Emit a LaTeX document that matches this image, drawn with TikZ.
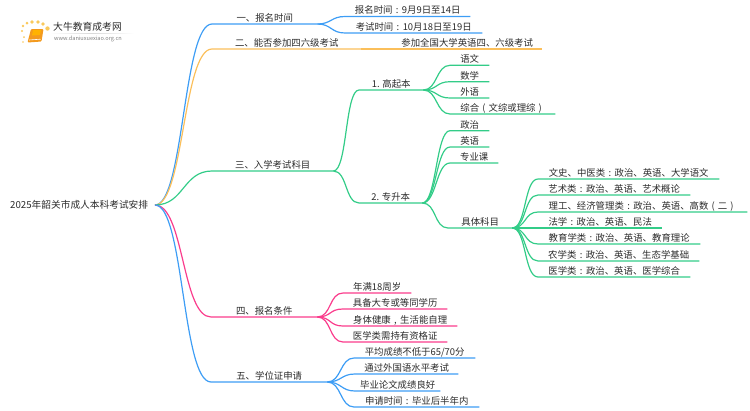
\documentclass[tikz,border=0pt]{standalone}
\usepackage{fontspec}
\setmainfont{Noto Sans CJK SC}
\definecolor{lineblue}{HTML}{3D9DF5}
\definecolor{lineorange}{HTML}{FBBF5A}
\definecolor{linegreen}{HTML}{33CC88}
\definecolor{linepink}{HTML}{FA3C8C}
\definecolor{labelgray}{HTML}{2B2B2B}
\definecolor{bookorange}{HTML}{F39A1E}
\definecolor{sparkyellow}{HTML}{F9C95C}
\newcommand{\wide}[1]{\makebox[1em]{#1}}
\tikzset{
    item/.style={anchor=south west, inner sep=0pt, text height=8pt, text depth=2.4pt, text=labelgray, font=\fontsize{9.4}{11}\selectfont}
}
\begin{document}
\begin{tikzpicture}[x=1pt, y=-1pt, link/.style={line width=1.2pt}]
    \useasboundingbox (0,0) rectangle (750,410);

    % Logo
    \fill[bookorange, rounded corners=1pt] (31,29) -- (43.5,29) -- (41.5,41.5) -- (27.5,42.5) -- cycle;
    \fill[orange!60!yellow] (33,30) -- (41,30) -- (40,35) -- (32,35.5) -- cycle;
    \draw[white, line width=0.6pt] (29,40) -- (40.5,39.2);
    \foreach \sx/\sy/\sr in {23/42/0.8, 24/37/1, 22/31/1.1, 23/26/1.3, 27/23/1.5, 32/22/1.8, 38/22/1.9, 43/24/1.9, 47.5/28.5/2.2}
        \fill[sparkyellow] (\sx,\sy) circle (\sr);
    \node[anchor=west, inner sep=0pt, text=labelgray, font=\fontsize{9.8}{11}\selectfont] (brand) at (53,27) {大牛教育成考网};
    \node[anchor=west, inner sep=0pt, text=gray, font=\fontsize{5.6}{7}\selectfont] (site) at (54,38.5) {www.daniuxuexiao.org.cn};
    \shade[left color=white, right color=white, middle color=black!15] (50,33) rectangle (134,33.6);

    % Root
    \node[anchor=west, inner sep=0pt, text=labelgray, font=\fontsize{9.7}{11}\selectfont] (root) at (10,205) {2025年韶关市成人本科考试安排};
    \coordinate (hub) at (155,205);

    % First level
    \node[item, minimum width=105pt] (time) at (212,24) {一、报名时间};
    \node[item, minimum width=149pt] (can) at (212,49) {二、能否参加四六级考试};
    \node[item, minimum width=121pt] (subject) at (212,171) {三、入学考试科目};
    \node[item, minimum width=106pt] (cond) at (211,317) {四、报名条件};
    \node[item, minimum width=116pt] (degree) at (211,382) {五、学位证申请};

    % Time
    \node[item, minimum width=125pt] (time1) at (345,16.5) {报名时间\wide{:}9月9日至14日};
    \node[item, minimum width=137pt] (time2) at (345,33) {考试时间\wide{:}10月18日至19日};

    % Can
    \node[item, minimum width=150pt] (can1) at (392,49) {参加全国大学英语四、六级考试};

    % Subject
    \node[item, minimum width=64pt] (gqb) at (359,90) {1. 高起本};
    \node[item, minimum width=63pt] (zsb) at (359,203) {2. 专升本};
    \node[item, minimum width=39pt] (gqb1) at (450,65.3) {语文};
    \node[item, minimum width=39pt] (gqb2) at (450,81.7) {数学};
    \node[item, minimum width=39pt] (gqb3) at (450,98) {外语};
    \node[item, minimum width=105pt] (gqb4) at (450,114) {综合\wide{(}文综或理综\wide{)}};
    \node[item, minimum width=39pt] (zsb1) at (450,130.7) {政治};
    \node[item, minimum width=39pt] (zsb2) at (450,147) {英语};
    \node[item, minimum width=48pt] (zsb3) at (450,163) {专业课};
    \node[item, minimum width=64pt] (zsb4) at (448,228) {具体科目};
    \node[item, minimum width=181pt] (kind1) at (538,179) {文史、中医类\wide{:}政治、英语、大学语文};
    \node[item, minimum width=152pt] (kind2) at (538,195) {艺术类\wide{:}政治、英语、艺术概论};
    \node[item, minimum width=209pt] (kind3) at (538,212) {理工、经济管理类\wide{:}政治、英语、高数\wide{(}二\wide{)}};
    \node[item, minimum width=124pt] (kind4) at (538,228) {法学\wide{:}政治、英语、民法};
    \node[item, minimum width=162pt] (kind5) at (538,244) {教育学类\wide{:}政治、英语、教育理论};
    \node[item, minimum width=161pt] (kind6) at (538,261) {农学类\wide{:}政治、英语、生态学基础};
    \node[item, minimum width=152pt] (kind7) at (538,277) {医学类\wide{:}政治、英语、医学综合};

    % Conditions
    \node[item, minimum width=68pt] (cond1) at (343,293) {年满18周岁};
    \node[item, minimum width=104pt] (cond2) at (343,309) {具备大专或等同学历};
    \node[item, minimum width=114pt] (cond3) at (343,326) {身体健康\wide{,}生活能自理};
    \node[item, minimum width=104pt] (cond4) at (343,342) {医学类需持有资格证};

    % Degree
    \node[item, minimum width=121pt] (degree1) at (354,358) {平均成绩不低于65/70分};
    \node[item, minimum width=103pt] (degree2) at (355,374) {通过外国语水平考试};
    \node[item, minimum width=85pt] (degree3) at (355,391) {毕业论文成绩良好};
    \node[item, minimum width=125pt] (degree4) at (354,407) {申请时间\wide{:}毕业后半年内};

    % Connections from the root
    \foreach \target/\tint in {time/lineblue, can/lineorange, subject/linegreen, cond/linepink, degree/lineblue}
        \draw[link, \tint] (hub) .. controls +(29,0) and +(-29,0) .. (\target.south west) -- (\target.south east);

    % Connections inside the branches
    \foreach \source/\target/\tint in {time/time1/lineblue, time/time2/lineblue, can/can1/lineorange,
        subject/gqb/linegreen, subject/zsb/linegreen,
        gqb/gqb1/linegreen, gqb/gqb2/linegreen, gqb/gqb3/linegreen, gqb/gqb4/linegreen,
        zsb/zsb1/linegreen, zsb/zsb2/linegreen, zsb/zsb3/linegreen, zsb/zsb4/linegreen,
        zsb4/kind1/linegreen, zsb4/kind2/linegreen, zsb4/kind3/linegreen, zsb4/kind4/linegreen,
        zsb4/kind5/linegreen, zsb4/kind6/linegreen, zsb4/kind7/linegreen,
        cond/cond1/linepink, cond/cond2/linepink, cond/cond3/linepink, cond/cond4/linepink,
        degree/degree1/lineblue, degree/degree2/lineblue, degree/degree3/lineblue, degree/degree4/lineblue}
        \draw[link, \tint] (\source.south east) .. controls +(14,0) and +(-14,0) .. (\target.south west) -- (\target.south east);

\end{tikzpicture}
\end{document}
